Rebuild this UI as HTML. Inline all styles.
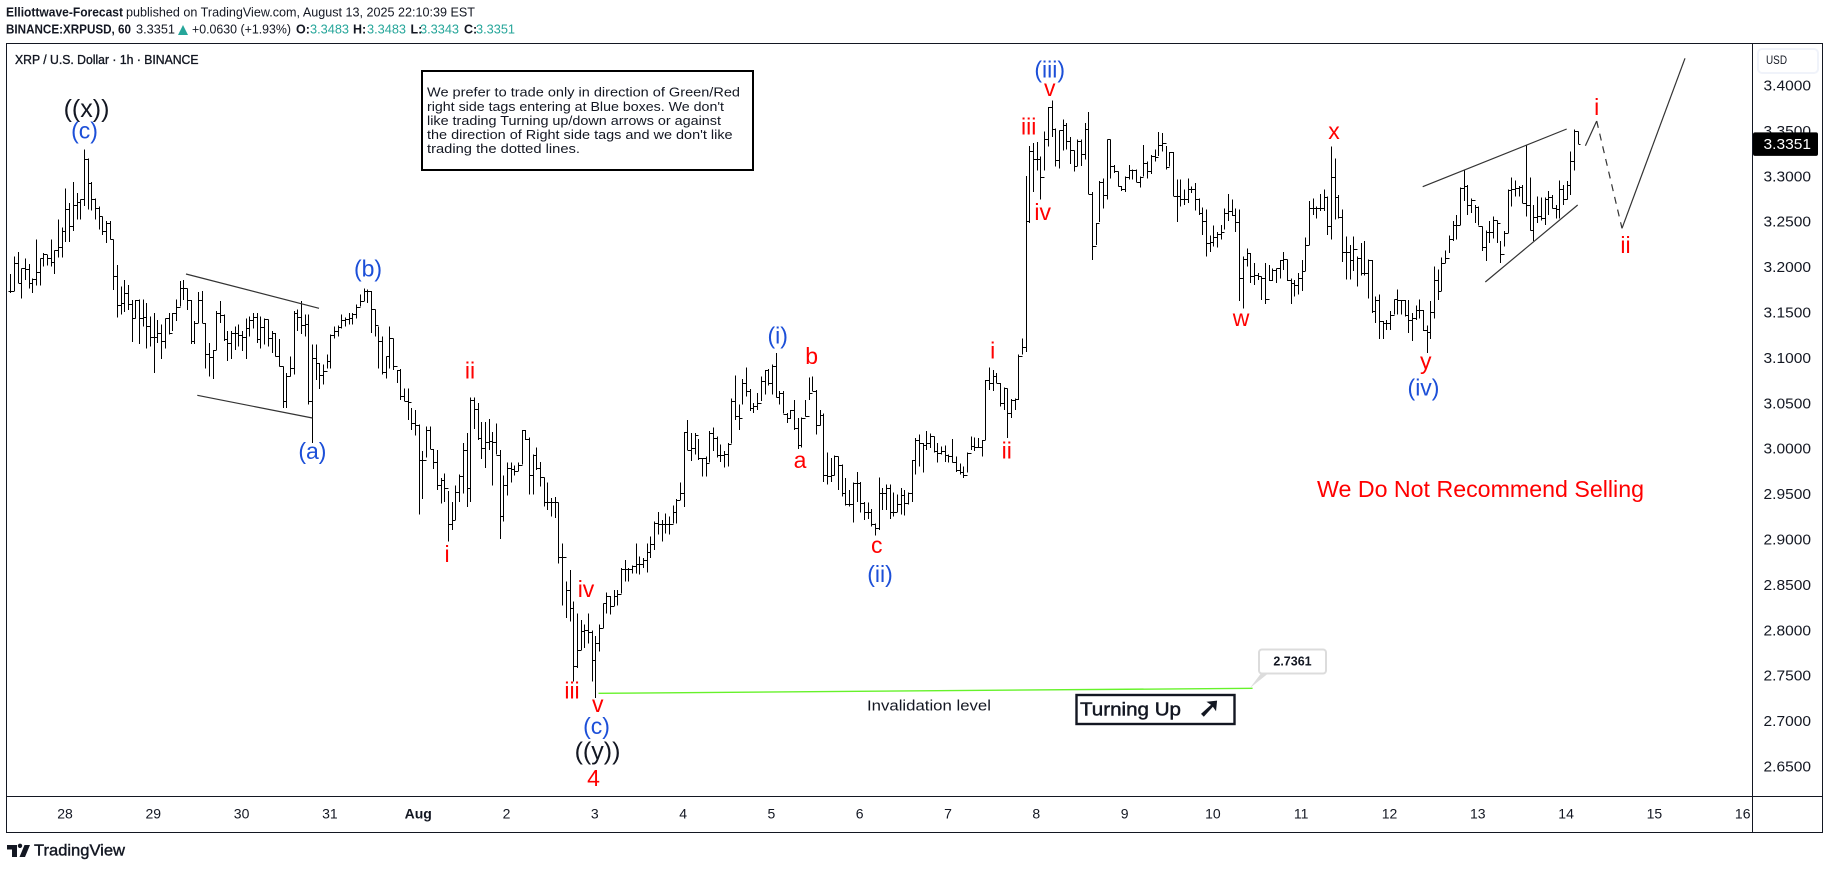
<!DOCTYPE html>
<html lang="en">
<head>
<meta charset="utf-8">
<title>XRP / U.S. Dollar chart</title>
<style>
html,body{margin:0;padding:0;background:#fff;width:1829px;height:869px;overflow:hidden}
svg{display:block;position:absolute;left:0;top:0}
text{font-family:"Liberation Sans","DejaVu Sans",sans-serif;fill:#131722}
.wave{text-anchor:middle;dominant-baseline:central;font-size:23px}
.red{fill:#ff0000}
.blue{fill:#1c4fd8}
.blk{fill:#131722;font-size:25px}
.note{font-size:13px;dominant-baseline:central}
.hdr{font-size:12.5px;dominant-baseline:central}
.teal{fill:#26a69a}
.b{font-weight:bold}
</style>
</head>
<body>
<svg id="chart" xmlns="http://www.w3.org/2000/svg" width="1829" height="869" viewBox="0 0 1829 869">
  <rect x="0" y="0" width="1829" height="869" fill="#fff"/>

  <g>
    <text class="hdr b" x="6" y="12.5" textLength="117" lengthAdjust="spacingAndGlyphs">Elliottwave-Forecast</text>
    <text class="hdr" x="126" y="12.5" textLength="349" lengthAdjust="spacingAndGlyphs">published on TradingView.com, August 13, 2025 22:10:39 EST</text>
    <text class="hdr b" x="6" y="29.5" textLength="125" lengthAdjust="spacingAndGlyphs">BINANCE:XRPUSD, 60</text>
    <text class="hdr" x="136" y="29.5" textLength="39" lengthAdjust="spacingAndGlyphs">3.3351</text>
    <polygon points="178,35 188,35 183,25" fill="#26a69a"/>
    <text class="hdr" x="192" y="29.5" textLength="99" lengthAdjust="spacingAndGlyphs">+0.0630 (+1.93%)</text>
    <text class="hdr b" x="296" y="29.5">O:</text>
    <text class="hdr teal" x="310" y="29.5" textLength="39" lengthAdjust="spacingAndGlyphs">3.3483</text>
    <text class="hdr b" x="353" y="29.5">H:</text>
    <text class="hdr teal" x="367" y="29.5" textLength="39" lengthAdjust="spacingAndGlyphs">3.3483</text>
    <text class="hdr b" x="410.5" y="29.5">L:</text>
    <text class="hdr teal" x="420" y="29.5" textLength="39" lengthAdjust="spacingAndGlyphs">3.3343</text>
    <text class="hdr b" x="464" y="29.5">C:</text>
    <text class="hdr teal" x="476" y="29.5" textLength="39" lengthAdjust="spacingAndGlyphs">3.3351</text>
  </g>

  <g id="bars"></g>
  <g id="priceLabels"></g>
  <g id="timeLabels"></g>

  <g fill="none" stroke="#131722" stroke-width="1" shape-rendering="crispEdges">
    <rect x="6.5" y="43.5" width="1816" height="789"/>
    <line x1="1752.5" y1="43.5" x2="1752.5" y2="832.5"/>
    <line x1="6.5" y1="796.5" x2="1822.5" y2="796.5"/>
  </g>

  <text class="hdr" x="15" y="60" textLength="183.5" lengthAdjust="spacingAndGlyphs" stroke="#131722" stroke-width="0.35">XRP / U.S. Dollar · 1h · BINANCE</text>

  <g>
    <rect x="422" y="71" width="331" height="99" fill="#fff" stroke="#000" stroke-width="2"/>
    <text class="note" x="427" y="92" textLength="313" lengthAdjust="spacingAndGlyphs">We prefer to trade only in direction of Green/Red</text>
    <text class="note" x="427" y="106.7" textLength="297" lengthAdjust="spacingAndGlyphs">right side tags entering at Blue boxes. We don't</text>
    <text class="note" x="427" y="120.7" textLength="294" lengthAdjust="spacingAndGlyphs">like trading Turning up/down arrows or against</text>
    <text class="note" x="427" y="134.7" textLength="305.6" lengthAdjust="spacingAndGlyphs">the direction of Right side tags and we don't like</text>
    <text class="note" x="427" y="148.7" textLength="153" lengthAdjust="spacingAndGlyphs">trading the dotted lines.</text>
  </g>

  <g stroke="#333" stroke-width="1.2" fill="none">
    <line x1="186" y1="274" x2="319" y2="308.3"/>
    <line x1="197.3" y1="395.3" x2="312.4" y2="418"/>
    <line x1="1422.7" y1="186.7" x2="1566.7" y2="129"/>
    <line x1="1485.3" y1="282" x2="1577.7" y2="205"/>
    <line x1="1585.4" y1="145.7" x2="1596.7" y2="121"/>
    <line x1="1596.7" y1="121" x2="1622" y2="228.3" stroke-dasharray="7 6"/>
    <line x1="1622" y1="228.3" x2="1685" y2="58.3"/>
  </g>

  <g>
    <text class="wave blk" x="86.5" y="109">((x))</text>
    <text class="wave blue" x="84.5" y="130.7">(c)</text>
    <text class="wave blue" x="368" y="268.5">(b)</text>
    <text class="wave blue" x="312.4" y="451">(a)</text>
    <text class="wave red" x="470" y="370.7">ii</text>
    <text class="wave red" x="447" y="554">i</text>
    <text class="wave red" x="586" y="589">iv</text>
    <text class="wave red" x="572" y="690.7">iii</text>
    <text class="wave red" x="597.7" y="704">v</text>
    <text class="wave blue" x="596.5" y="726">(c)</text>
    <text class="wave blk" x="597.5" y="751.7">((y))</text>
    <text class="wave red" x="593.5" y="778">4</text>
    <text class="wave red" x="876.7" y="545">c</text>
    <text class="wave blue" x="880" y="574">(ii)</text>
    <text class="wave blue" x="777.7" y="335.5">(i)</text>
    <text class="wave red" x="811.7" y="356">b</text>
    <text class="wave red" x="800" y="460">a</text>
    <text class="wave red" x="992.7" y="350.7">i</text>
    <text class="wave red" x="1006.7" y="450.7">ii</text>
    <text class="wave red" x="1042.7" y="212">iv</text>
    <text class="wave red" x="1028.7" y="126.7">iii</text>
    <text class="wave red" x="1049.7" y="88">v</text>
    <text class="wave blue" x="1049.7" y="69.7">(iii)</text>
    <text class="wave red" x="1334" y="131">x</text>
    <text class="wave red" x="1241" y="318">w</text>
    <text class="wave red" x="1425.7" y="361">y</text>
    <text class="wave blue" x="1423.5" y="387.5">(iv)</text>
    <text class="wave red" x="1596.7" y="107">i</text>
    <text class="wave red" x="1625.5" y="245">ii</text>
  </g>

  <text class="red" x="1317" y="489" textLength="327" lengthAdjust="spacingAndGlyphs" style="font-size:23px;dominant-baseline:central;fill:#ff0000">We Do Not Recommend Selling</text>

  <g>
    <line x1="598.5" y1="693.3" x2="1252.6" y2="688.3" stroke="#66f22a" stroke-width="1.4"/>
    <polygon points="1250,688 1262,672 1270,672" fill="#dcdcdc"/>
    <rect x="1259" y="649.5" width="67" height="24" rx="3" fill="#fff" stroke="#dcdcdc" stroke-width="2"/>
    <text class="b" x="1292.5" y="661.5" style="font-size:12.5px;text-anchor:middle;dominant-baseline:central">2.7361</text>
    <text x="867" y="706.7" textLength="124" lengthAdjust="spacingAndGlyphs" style="font-size:14.5px;dominant-baseline:central">Invalidation level</text>
  </g>

  <g>
    <rect x="1076.5" y="695" width="158" height="29" fill="#fff" stroke="#131722" stroke-width="2.4"/>
    <text x="1080" y="709" textLength="101" lengthAdjust="spacingAndGlyphs" stroke="#131722" stroke-width="0.45" style="font-size:18.5px;dominant-baseline:central">Turning Up</text>
    <text x="1209.5" y="708" stroke="#131722" stroke-width="0.8" style="font-size:27px;font-family:'DejaVu Sans',sans-serif;font-weight:bold;text-anchor:middle;dominant-baseline:central">➚</text>
  </g>

  <g>
    <rect x="1758" y="49" width="60" height="24" rx="4" fill="#fff" stroke="#f0f3fa" stroke-width="2"/>
    <text x="1766" y="61" textLength="21" lengthAdjust="spacingAndGlyphs" style="font-size:11.5px;dominant-baseline:central">USD</text>
  </g>

  <g id="lastTag"></g>

  <g>
    <path d="M7 845h10v12h-5v-7.5h-5zM20 848a2.2 2.2 0 1 1 0.01 0zM24.5 845H30L25 857h-5.5z" fill="#131722"/>
    <text x="34" y="851" textLength="91" lengthAdjust="spacingAndGlyphs" stroke="#131722" stroke-width="0.4" style="font-size:16px;dominant-baseline:central">TradingView</text>
  </g>
</svg>

<script>
// Hourly bars; rows are grouped by calendar day.
const highs = [
  3.192,3.211,3.216,3.198,3.209,3.203,3.187,3.230,3.209,3.215,3.213,3.230,3.218,3.252,3.243,
  3.286,3.270,3.293,3.281,3.274,3.329,3.319,3.293,3.275,3.266,3.255,3.250,3.250,3.230,3.202,3.178,3.185,3.180,3.163,3.163,3.164,3.164,3.160,3.145,
  3.149,3.141,3.136,3.143,3.149,3.149,3.164,3.184,3.185,3.176,3.163,3.140,3.172,3.173,3.138,3.116,3.108,3.151,3.162,3.147,3.129,3.129,3.134,3.136,
  3.129,3.143,3.145,3.149,3.149,3.145,3.143,3.142,3.129,3.127,3.120,3.090,3.083,3.101,3.151,3.153,3.162,3.147,3.147,3.114,3.114,3.094,3.092,3.103,
  3.125,3.134,3.135,3.147,3.144,3.149,3.149,3.158,3.169,3.176,3.175,3.173,3.153,3.134,3.123,3.101,3.134,3.121,3.086,3.087,3.066,3.066,3.044,3.042,
  3.026,2.997,3.024,3.024,2.999,2.998,2.967,2.972,2.953,2.941,2.959,2.971,3.006,3.017,3.056,3.056,3.050,3.029,3.029,3.032,3.018,3.027,2.998,2.970,
  2.984,2.984,2.981,2.984,3.020,3.020,3.012,2.993,3.001,2.985,2.968,2.962,2.945,2.946,2.940,2.895,2.853,2.866,2.831,2.818,2.811,2.806,2.818,2.799,
  2.793,2.806,2.829,2.841,2.837,2.844,2.844,2.868,2.877,2.868,2.871,2.895,2.881,2.879,2.895,2.903,2.919,2.930,2.921,2.928,2.925,2.937,2.944,2.962,
  3.018,3.031,3.017,3.017,3.010,2.989,2.991,3.019,3.023,3.013,3.004,2.997,3.006,3.055,3.080,3.048,3.076,3.089,3.065,3.050,3.061,3.079,3.086,3.087,
  3.092,3.105,3.063,3.063,3.039,3.042,3.053,3.033,3.034,3.053,3.078,3.079,3.064,3.042,3.038,2.995,2.989,2.992,2.991,2.982,2.967,2.954,2.962,2.974,
  2.963,2.941,2.940,2.933,2.917,2.968,2.956,2.960,2.960,2.951,2.949,2.956,2.954,2.951,2.987,3.011,3.015,3.006,3.019,3.016,3.013,3.006,3.002,3.003,
  2.993,3.010,2.991,2.983,2.980,2.995,3.013,3.012,3.011,3.009,3.075,3.089,3.086,3.083,3.072,3.067,3.066,3.054,3.055,3.103,3.121,3.300,3.333,3.336,
  3.337,3.321,3.349,3.376,3.383,3.352,3.350,3.362,3.358,3.343,3.328,3.340,3.340,3.358,3.370,3.282,3.248,3.294,3.297,3.340,3.340,3.312,3.305,3.289,
  3.299,3.312,3.307,3.307,3.299,3.334,3.316,3.323,3.329,3.348,3.347,3.333,3.326,3.326,3.296,3.296,3.285,3.297,3.288,3.292,3.275,3.265,3.263,3.234,
  3.245,3.238,3.246,3.264,3.280,3.274,3.264,3.263,3.211,3.220,3.215,3.204,3.193,3.189,3.204,3.202,3.198,3.198,3.207,3.216,3.208,3.187,3.185,3.193,
  3.207,3.232,3.272,3.275,3.266,3.280,3.285,3.277,3.332,3.319,3.279,3.263,3.233,3.224,3.233,3.211,3.226,3.228,3.208,3.207,3.167,3.169,3.140,3.141,
  3.151,3.164,3.175,3.163,3.163,3.163,3.149,3.157,3.164,3.152,3.135,3.162,3.200,3.197,3.210,3.218,3.234,3.250,3.257,3.287,3.307,3.290,3.275,3.268,
  3.266,3.244,3.240,3.250,3.255,3.251,3.228,3.239,3.285,3.298,3.295,3.289,3.290,3.334,3.298,3.268,3.277,3.276,3.276,3.283,3.279,3.268,3.295,3.290,
  3.294,3.327,3.351,3.349
];
const lows = [
  3.171,3.173,3.182,3.165,3.185,3.176,3.171,3.179,3.179,3.200,3.201,3.200,3.192,3.210,3.210,
  3.227,3.227,3.239,3.252,3.252,3.267,3.263,3.262,3.252,3.241,3.235,3.226,3.230,3.174,3.144,3.147,3.150,3.152,3.117,3.143,3.115,3.134,3.110,3.112,
  3.083,3.116,3.098,3.110,3.125,3.129,3.140,3.156,3.163,3.152,3.115,3.115,3.138,3.138,3.088,3.079,3.076,3.108,3.138,3.118,3.096,3.098,3.108,3.112,
  3.107,3.098,3.123,3.132,3.116,3.110,3.114,3.112,3.105,3.101,3.090,3.044,3.044,3.079,3.081,3.129,3.126,3.123,3.048,3.006,3.075,3.065,3.070,3.088,
  3.088,3.121,3.123,3.132,3.134,3.136,3.136,3.143,3.156,3.162,3.160,3.127,3.123,3.088,3.081,3.077,3.088,3.086,3.072,3.053,3.052,3.031,3.020,3.014,
  2.927,2.944,2.990,2.999,2.977,2.954,2.939,2.941,2.897,2.910,2.921,2.941,2.950,2.935,2.941,3.021,3.009,2.988,2.978,2.998,2.959,2.993,2.900,2.919,
  2.948,2.962,2.970,2.975,2.982,3.009,2.949,2.949,2.976,2.958,2.936,2.932,2.925,2.923,2.873,2.827,2.813,2.809,2.743,2.758,2.778,2.780,2.785,2.743,
  2.725,2.776,2.802,2.818,2.817,2.826,2.827,2.840,2.853,2.853,2.862,2.862,2.861,2.868,2.863,2.879,2.888,2.905,2.897,2.906,2.905,2.917,2.917,2.943,
  2.935,2.998,2.986,2.993,2.987,2.969,2.969,2.984,2.997,2.990,2.985,2.979,2.980,3.005,3.031,3.020,3.048,3.057,3.041,3.039,3.042,3.052,3.059,3.069,
  3.059,3.056,3.048,3.038,3.028,3.032,3.020,2.999,3.001,3.035,3.053,3.063,3.015,3.025,2.963,2.960,2.963,2.970,2.954,2.947,2.937,2.936,2.918,2.941,
  2.929,2.921,2.922,2.914,2.904,2.910,2.932,2.932,2.922,2.925,2.930,2.927,2.926,2.938,2.941,2.971,2.980,2.973,2.998,3.000,2.995,2.984,2.993,2.985,
  2.984,2.984,2.974,2.971,2.967,2.973,2.998,2.997,3.000,2.991,3.009,3.064,3.063,3.072,3.046,3.042,3.011,3.033,3.042,3.053,3.103,3.106,3.248,3.282,
  3.306,3.274,3.306,3.332,3.343,3.310,3.308,3.328,3.329,3.313,3.305,3.311,3.311,3.318,3.280,3.207,3.224,3.249,3.264,3.274,3.297,3.303,3.288,3.283,
  3.282,3.296,3.296,3.293,3.287,3.299,3.297,3.302,3.316,3.322,3.327,3.307,3.310,3.278,3.249,3.266,3.268,3.270,3.281,3.262,3.257,3.235,3.211,3.216,
  3.222,3.221,3.230,3.241,3.250,3.256,3.238,3.162,3.154,3.200,3.182,3.180,3.185,3.163,3.159,3.184,3.184,3.182,3.187,3.196,3.184,3.159,3.167,3.169,
  3.173,3.195,3.224,3.257,3.253,3.261,3.261,3.235,3.230,3.252,3.253,3.205,3.186,3.186,3.195,3.178,3.190,3.190,3.165,3.149,3.138,3.120,3.120,3.130,
  3.130,3.147,3.147,3.147,3.145,3.127,3.118,3.141,3.143,3.129,3.105,3.120,3.143,3.163,3.173,3.204,3.215,3.228,3.230,3.246,3.272,3.257,3.259,3.248,
  3.245,3.217,3.206,3.226,3.231,3.226,3.204,3.222,3.237,3.266,3.277,3.277,3.270,3.255,3.240,3.228,3.248,3.251,3.246,3.257,3.264,3.253,3.253,3.268,
  3.274,3.279,3.306,3.335
];
const closes = [
  3.173,3.204,3.182,3.198,3.197,3.182,3.186,3.194,3.209,3.214,3.209,3.205,3.218,3.222,3.239,
  3.263,3.245,3.268,3.271,3.274,3.319,3.292,3.275,3.264,3.256,3.239,3.248,3.230,3.190,3.158,3.160,3.171,3.159,3.143,3.163,3.143,3.145,3.135,3.122,
  3.122,3.127,3.118,3.143,3.127,3.149,3.156,3.176,3.176,3.163,3.118,3.138,3.163,3.138,3.104,3.100,3.108,3.149,3.147,3.120,3.116,3.127,3.127,3.125,
  3.123,3.132,3.141,3.145,3.120,3.134,3.142,3.121,3.127,3.101,3.090,3.052,3.079,3.088,3.149,3.145,3.136,3.137,3.052,3.099,3.094,3.081,3.085,3.096,
  3.125,3.129,3.134,3.141,3.142,3.143,3.148,3.156,3.162,3.173,3.173,3.153,3.136,3.118,3.084,3.101,3.121,3.090,3.086,3.057,3.052,3.051,3.028,3.026,
  2.987,2.987,3.020,2.999,2.985,2.960,2.965,2.956,2.917,2.921,2.952,2.969,2.998,2.956,3.053,3.043,3.011,3.000,3.007,3.008,3.007,2.993,2.925,2.960,
  2.978,2.977,2.975,2.982,3.020,3.010,2.970,2.993,2.978,2.968,2.941,2.941,2.941,2.941,2.880,2.880,2.844,2.824,2.760,2.778,2.799,2.800,2.798,2.767,
  2.785,2.802,2.829,2.837,2.826,2.837,2.839,2.867,2.867,2.867,2.870,2.872,2.872,2.877,2.886,2.895,2.918,2.917,2.916,2.917,2.917,2.930,2.943,2.951,
  3.018,2.998,3.000,3.015,2.989,2.989,2.984,3.017,3.011,2.992,2.992,2.994,3.005,3.052,3.035,3.033,3.072,3.063,3.044,3.047,3.050,3.074,3.086,3.072,
  3.090,3.056,3.061,3.038,3.033,3.042,3.022,3.004,3.033,3.036,3.061,3.063,3.026,3.037,2.971,2.969,2.970,2.991,2.982,2.951,2.939,2.938,2.962,2.962,
  2.940,2.930,2.930,2.917,2.912,2.951,2.951,2.956,2.930,2.930,2.939,2.949,2.940,2.951,2.987,3.009,3.006,3.003,3.006,3.013,2.997,2.995,2.997,2.993,
  2.991,2.985,2.976,2.974,2.971,2.995,3.002,3.001,3.001,3.009,3.075,3.072,3.079,3.072,3.050,3.066,3.039,3.053,3.054,3.102,3.111,3.250,3.327,3.319,
  3.319,3.299,3.341,3.376,3.352,3.317,3.350,3.356,3.338,3.328,3.311,3.338,3.324,3.352,3.280,3.223,3.248,3.293,3.279,3.340,3.311,3.305,3.289,3.285,
  3.299,3.306,3.306,3.293,3.299,3.314,3.305,3.322,3.321,3.334,3.336,3.310,3.326,3.278,3.278,3.275,3.274,3.285,3.285,3.275,3.259,3.250,3.226,3.227,
  3.233,3.236,3.238,3.259,3.261,3.257,3.249,3.187,3.208,3.215,3.190,3.191,3.190,3.187,3.164,3.185,3.196,3.198,3.207,3.208,3.185,3.182,3.180,3.187,
  3.195,3.224,3.264,3.264,3.264,3.265,3.277,3.245,3.299,3.277,3.255,3.216,3.216,3.207,3.219,3.209,3.193,3.193,3.207,3.151,3.163,3.140,3.138,3.138,
  3.147,3.164,3.163,3.163,3.147,3.141,3.143,3.152,3.152,3.130,3.128,3.150,3.185,3.173,3.204,3.210,3.230,3.246,3.246,3.287,3.289,3.268,3.273,3.266,
  3.245,3.222,3.238,3.238,3.251,3.248,3.214,3.237,3.284,3.286,3.287,3.288,3.270,3.268,3.240,3.255,3.256,3.253,3.275,3.277,3.264,3.263,3.285,3.274,
  3.290,3.316,3.349,3.335
];
const priceTicks = ["3.4000","3.3500","3.3000","3.2500","3.2000","3.1500","3.1000","3.0500","3.0000","2.9500","2.9000","2.8500","2.8000","2.7500","2.7000","2.6500"];
const dayLabels = ["28","29","30","31","Aug","2","3","4","5","6","7","8","9","10","11","12","13","14","15","16"];
const lastPrice = ["3.3351"];

const NS = 'http://www.w3.org/2000/svg';
function xBar(i){ return 10.3 + i * (88.3 / 24); }
function xDay(d){ return 65 + d * 88.3; }
function yPrice(p){ return 766 - (p - 2.65) * 908; }
function snap(v){ return Math.round(v) + 0.5; }

const barsGroup = document.getElementById('bars');
highs.forEach(function(h, i){
  const cx = snap(xBar(i));
  const c = closes[i];
  const o = i > 0 ? closes[i - 1] : c;
  const path = document.createElementNS(NS, 'path');
  
  
  const yo = snap(yPrice(o)), yc = snap(yPrice(c));
  path.setAttribute('d',
    'M' + cx + ' ' + yPrice(h).toFixed(1) + 'V' + yPrice(lows[i]).toFixed(1) +
    'M' + (cx - 2) + ' ' + yo + 'H' + cx +
    'M' + cx + ' ' + yc + 'H' + (cx + 2));
  path.setAttribute('stroke', '#000');
  path.setAttribute('stroke-width', '1.1');
  path.setAttribute('fill', 'none');
  path.setAttribute('shape-rendering', 'crispEdges');
  barsGroup.appendChild(path);
});

const priceGroup = document.getElementById('priceLabels');
priceTicks.forEach(function(label){
  const t = document.createElementNS(NS, 'text');
  
  
  t.setAttribute('x', '1763.5');
  t.setAttribute('y', (yPrice(parseFloat(label)) + 1.5).toFixed(1));
  t.setAttribute('textLength', '47.5');
  t.setAttribute('lengthAdjust', 'spacingAndGlyphs');
  t.setAttribute('style', 'font-size:14.5px;dominant-baseline:central');
  t.textContent = label;
  priceGroup.appendChild(t);
});

const timeGroup = document.getElementById('timeLabels');
dayLabels.forEach(function(label, d){
  const t = document.createElementNS(NS, 'text');
  
  
  t.setAttribute('x', xDay(d).toFixed(1));
  t.setAttribute('y', '813.5');
  t.setAttribute('style', 'font-size:14px;text-anchor:middle;dominant-baseline:central' + (label === 'Aug' ? ';font-weight:bold' : ''));
  t.textContent = label;
  timeGroup.appendChild(t);
});

const tagGroup = document.getElementById('lastTag');
const yLast = yPrice(parseFloat(lastPrice[0]));
const tagRect = document.createElementNS(NS, 'rect');


tagRect.setAttribute('x', '1753');
tagRect.setAttribute('y', (yLast - 11.5).toFixed(1));
tagRect.setAttribute('width', '65');
tagRect.setAttribute('height', '23.5');
tagRect.setAttribute('rx', '2');
tagRect.setAttribute('fill', '#000');
tagGroup.appendChild(tagRect);
const tagText = document.createElementNS(NS, 'text');


tagText.setAttribute('x', '1763.5');
tagText.setAttribute('y', (yLast + 1).toFixed(1));
tagText.setAttribute('textLength', '47.5');
tagText.setAttribute('lengthAdjust', 'spacingAndGlyphs');
tagText.setAttribute('style', 'font-size:14.5px;fill:#fff;dominant-baseline:central');
tagText.textContent = lastPrice[0];
tagGroup.appendChild(tagText);
</script>
</body>
</html>
